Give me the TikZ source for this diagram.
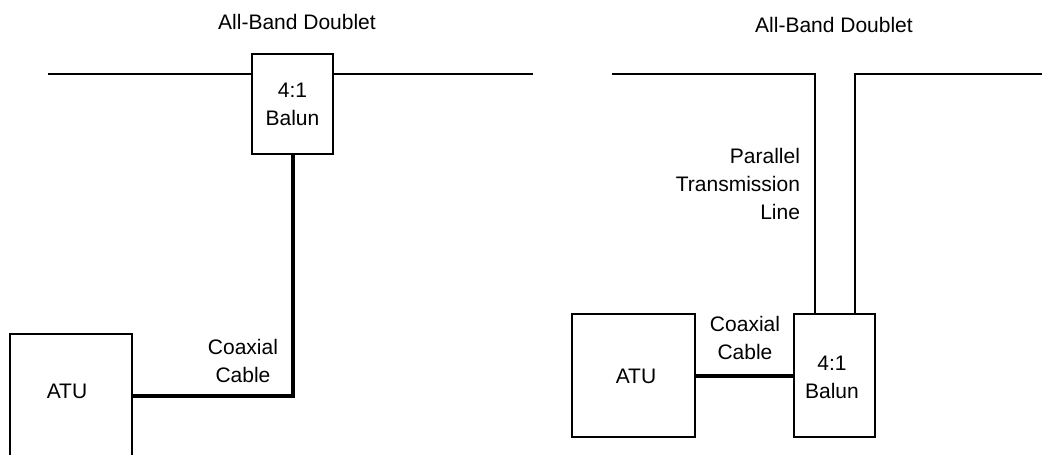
\documentclass[tikz,border=0pt]{standalone}
\usepackage{fontspec}
\setmainfont{Liberation Sans}
\tikzset{
  box/.style={draw, line width=1.2pt, inner sep=0pt, outer sep=0pt, align=center},
  txt/.style={inner sep=0pt, outer sep=0pt, align=center},
  wire/.style={line width=1.2pt},
  coax/.style={line width=4pt}
}
\begin{document}
\begin{tikzpicture}[x=1pt, y=-1pt, font=\fontsize{21}{28}\selectfont]
\useasboundingbox (0,0) rectangle (1042,455);
%left doublet
\node[txt] (titleA) at (297,22) {All-Band Doublet};
\node[box, minimum width=81pt, minimum height=100pt] (balunA) at (292.5,104) {4:1\\Balun};
\node[box, minimum width=122pt, minimum height=123pt] (atuA) at (71,395.5) {};
\node[txt] (atuTextA) at (67,391) {ATU};
\node[txt] (coaxA) at (243,361) {Coaxial\\Cable};
\coordinate (endAl) at (48,74);
\coordinate (endAr) at (533,74);
\draw[wire] (endAl) -- (balunA.west |- endAl);
\draw[wire] (balunA.east |- endAr) -- (endAr);
\draw[coax] (balunA.south) |- (atuA.east);

%right doublet
\node[txt] (titleB) at (834,25) {All-Band Doublet};
\node[box, minimum width=81pt, minimum height=123pt] (balunB) at (834.5,375.5) {};
\node[txt] (balunTextB) at (832,377) {4:1\\Balun};
\node[box, minimum width=123pt, minimum height=123pt] (atuB) at (633.5,375.5) {};
\node[txt] (atuTextB) at (636,376) {ATU};
\node[txt] (coaxB) at (745,338) {Coaxial\\Cable};
\node[txt, align=right, anchor=east] (lineB) at (800,184) {Parallel\\Transmission\\Line};
\coordinate (endBl) at (612,74);
\coordinate (endBr) at (1042,74);
\draw[wire] (endBl) -| (balunB.north -| 815,0);
\draw[wire] (endBr) -| (balunB.north -| 855,0);
\draw[coax] (atuB.east) -- (balunB.west);
\end{tikzpicture}
\end{document}
